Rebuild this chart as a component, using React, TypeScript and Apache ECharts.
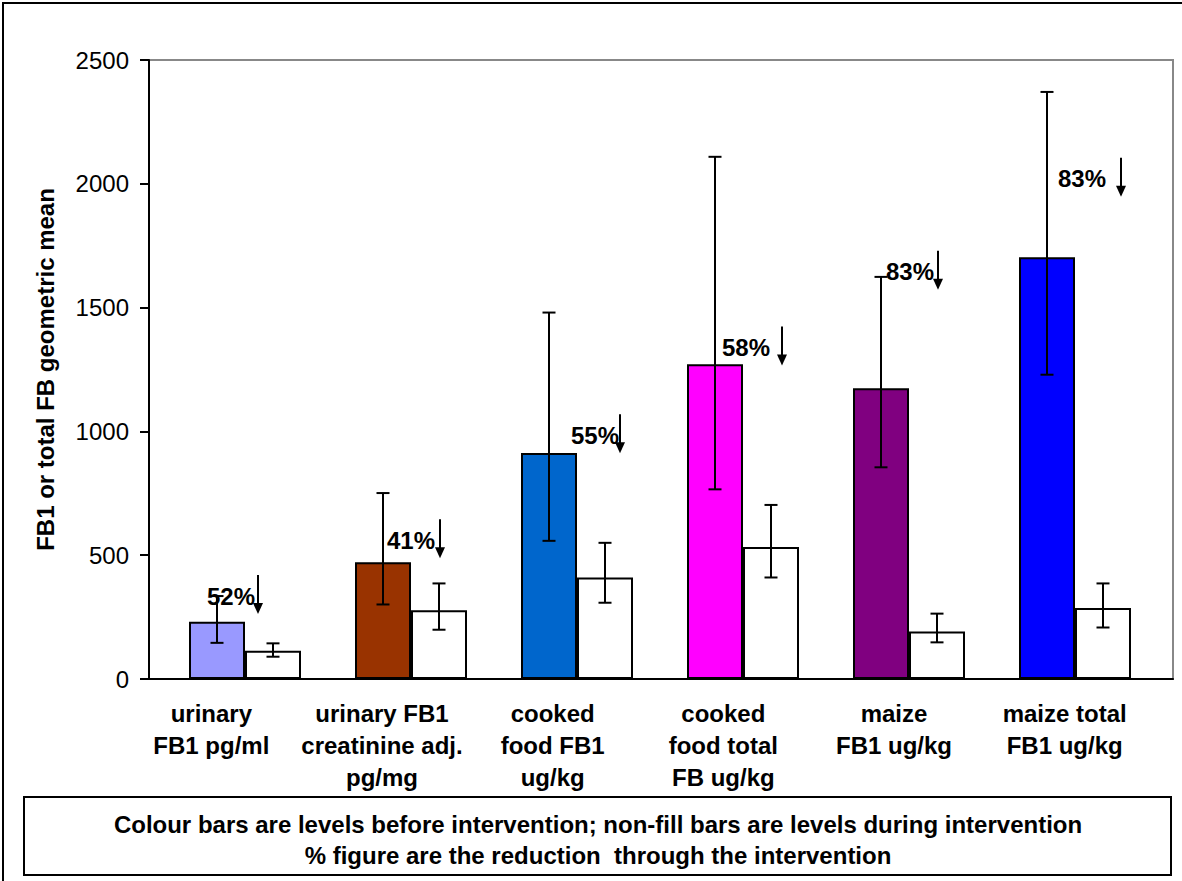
import React, { useEffect, useRef } from "react";
import * as echarts from "echarts";

// ---------- data ----------
const categories = [
  "urinary\nFB1 pg/ml",
  "urinary FB1\ncreatinine adj.\npg/mg",
  "cooked\nfood FB1\nug/kg",
  "cooked\nfood total\nFB ug/kg",
  "maize\nFB1 ug/kg",
  "maize total\nFB1 ug/kg",
];
const beforeValues = [231, 472, 913, 1271, 1174, 1703];
const beforeLow = [146, 301, 558, 766, 855, 1229];
const beforeHigh = [335, 751, 1480, 2109, 1624, 2371];
const afterValues = [114, 278, 410, 533, 192, 287];
const afterLow = [90, 199, 308, 410, 148, 208];
const afterHigh = [144, 386, 550, 703, 264, 386];
const beforeColors = ["#9999FF", "#993300", "#0066CC", "#FF00FF", "#800080", "#0000FF"];
const reductionLabels = ["52%", "41%", "55%", "58%", "83%", "83%"];
const reductionLabelLevel = [335, 560, 984, 1339, 1645, 2020];
const yTicks = { min: 0, max: 2500, interval: 500 };

// ---------- layout (annotation placement, px) ----------
const BAR_W = 56;
const CAP_W = 13;
const labelDx = [-14, 0, 18, 3, 1, 7];
const arrowDx = [13, 29, 43, 39, 29, 46];
const FONT = "Liberation Sans, Arial, sans-serif";

export default function App() {
  const ref = useRef<HTMLDivElement>(null);

  useEffect(() => {
    document.body.style.margin = "0";
    if (!ref.current) return;
    const chart = echarts.init(ref.current, undefined, { renderer: "svg" });

    const errData: number[][] = [];
    categories.forEach((_, i) => {
      errData.push([i, beforeLow[i], beforeHigh[i], -1]);
      errData.push([i, afterLow[i], afterHigh[i], 1]);
    });
    const annData = categories.map((_, i) => [i, reductionLabelLevel[i]]);

    const plotTop = 60;
    const plotH = 619;

    chart.setOption({
      animation: false,
      backgroundColor: "#ffffff",
      grid: [
        { left: 149, top: plotTop, width: 1024, height: plotH, show: true, borderColor: "#888888", borderWidth: 2, backgroundColor: "transparent" },
        { left: 126, top: plotTop, width: 1024, height: plotH },
        { left: 162, top: plotTop, width: 996, height: plotH },
      ],
      xAxis: [
        {
          gridIndex: 0, type: "value", min: 0, max: 1,
          axisLine: { show: true, lineStyle: { color: "#000", width: 2 } },
          axisTick: { show: false }, axisLabel: { show: false }, splitLine: { show: false },
        },
        {
          gridIndex: 1, type: "category", data: categories,
          axisLine: { show: false }, axisTick: { show: false },
          axisLabel: {
            interval: 0, margin: 18, lineHeight: 32, color: "#000",
            fontSize: 24, fontWeight: "bold", fontFamily: FONT,
          },
        },
        {
          gridIndex: 2, type: "category", data: categories, show: false,
        },
      ],
      yAxis: [
        {
          gridIndex: 0, type: "value", min: yTicks.min, max: yTicks.max, interval: yTicks.interval,
          name: "FB1 or total FB geometric mean", nameLocation: "middle", nameRotate: 90, nameGap: 92,
          nameTextStyle: { fontSize: 24, fontWeight: "bold", fontFamily: FONT, color: "#000" },
          axisLine: { show: true, lineStyle: { color: "#000", width: 2 } },
          axisTick: { show: true, inside: false, length: 9, lineStyle: { color: "#000", width: 2 } },
          axisLabel: { margin: 20, fontSize: 24, fontFamily: FONT, color: "#000", formatter: (v: number) => String(v) },
          splitLine: { show: false },
        },
        { gridIndex: 1, type: "value", min: 0, max: 2500, show: false },
        { gridIndex: 2, type: "value", min: yTicks.min, max: yTicks.max, show: false },
      ],
      series: [
        {
          name: "before", type: "bar", xAxisIndex: 2, yAxisIndex: 2,
          barWidth: BAR_W, barGap: "0%",
          data: beforeValues.map((v, i) => ({ value: v, itemStyle: { color: beforeColors[i] } })),
          itemStyle: { borderColor: "#000", borderWidth: 2 },
        },
        {
          name: "after", type: "bar", xAxisIndex: 2, yAxisIndex: 2,
          barWidth: BAR_W, barGap: "0%",
          data: afterValues,
          itemStyle: { color: "#ffffff", borderColor: "#000", borderWidth: 2 },
        },
        {
          name: "errors", type: "custom", xAxisIndex: 2, yAxisIndex: 2, z: 5,
          data: errData,
          renderItem: (params: any, api: any) => {
            const lo = api.coord([api.value(0), api.value(1)]);
            const hi = api.coord([api.value(0), api.value(2)]);
            const x = lo[0] + api.value(3) * BAR_W / 2;
            const st = { stroke: "#000", lineWidth: 2 };
            return {
              type: "group",
              children: [
                { type: "line", shape: { x1: x, y1: lo[1], x2: x, y2: hi[1] }, style: st },
                { type: "line", shape: { x1: x - CAP_W / 2, y1: lo[1], x2: x + CAP_W / 2, y2: lo[1] }, style: st },
                { type: "line", shape: { x1: x - CAP_W / 2, y1: hi[1], x2: x + CAP_W / 2, y2: hi[1] }, style: st },
              ],
            };
          },
        },
        {
          name: "reduction", type: "custom", xAxisIndex: 2, yAxisIndex: 2, z: 6,
          data: annData,
          renderItem: (params: any, api: any) => {
            const i = params.dataIndex;
            const c = api.coord([api.value(0), api.value(1)]);
            const tx = c[0] + labelDx[i];
            const ax = c[0] + arrowDx[i];
            const top = c[1] - 21;
            const bot = c[1] + 18;
            return {
              type: "group",
              children: [
                {
                  type: "text",
                  style: {
                    text: reductionLabels[i], x: tx, y: c[1], align: "center", verticalAlign: "middle",
                    fill: "#000", font: `bold 24px ${FONT}`,
                  },
                },
                { type: "line", shape: { x1: ax, y1: top, x2: ax, y2: bot - 8 }, style: { stroke: "#000", lineWidth: 2 } },
                {
                  type: "polygon",
                  shape: { points: [[ax - 5, bot - 11], [ax + 5, bot - 11], [ax, bot]] },
                  style: { fill: "#000" },
                },
              ],
            };
          },
        },
      ],
      graphic: [
        {
          type: "rect", shape: { x: 3, y: 3, width: 1220, height: 920 },
          style: { fill: "none", stroke: "#000", lineWidth: 2 }, silent: true,
        },
        {
          type: "rect", shape: { x: 24, y: 797, width: 1147, height: 78 },
          style: { fill: "#fff", stroke: "#000", lineWidth: 2 }, silent: true,
        },
        {
          type: "text", x: 598, y: 824,
          style: {
            text: "Colour bars are levels before intervention; non-fill bars are levels during intervention",
            align: "center", verticalAlign: "middle", fill: "#000", font: `bold 24px ${FONT}`,
          },
        },
        {
          type: "text", x: 598, y: 855,
          style: {
            text: "% figure are the reduction  through the intervention",
            align: "center", verticalAlign: "middle", fill: "#000", font: `bold 24px ${FONT}`,
          },
        },
      ],
    });

    return () => chart.dispose();
  }, []);

  return <div ref={ref} style={{ width: 1182, height: 881 }} />;
}
